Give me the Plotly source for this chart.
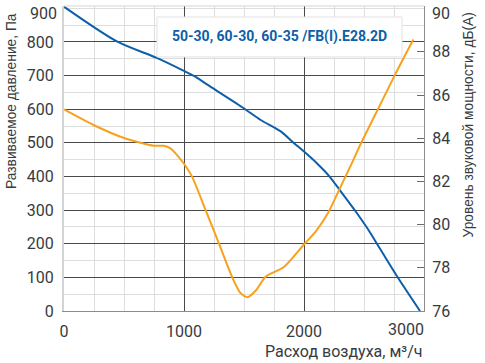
import plotly.graph_objects as go

# Data
airflow_pressure = [0, 445, 778, 1000, 1083, 1195, 1486, 1639, 1806, 1917, 2000,
                    2111, 2208, 2306, 2431, 2528, 2639, 2778, 2967]
pressure_pa = [905, 801, 752, 714, 699, 673, 606, 568, 534, 499, 474,
               438, 402, 356, 296, 246, 182, 102, 0]

airflow_sound = [0, 250, 500, 748, 831, 887, 942, 997, 1067, 1180, 1290, 1405, 1472, 1530,
                 1600, 1680, 1833, 2000, 2100, 2200, 2300, 2400, 2472, 2640, 2764, 2911]
sound_dba = [85.33, 84.60, 84.01, 83.65, 83.65, 83.53, 83.22, 82.84, 82.22, 80.67, 79.14,
             77.52, 76.82, 76.64, 76.96, 77.59, 78.04, 79.08, 79.70, 80.54, 81.69, 82.86,
             83.73, 85.61, 87.00, 88.57]

x_ticks = [0, 1000, 2000]
y_ticks = [0, 100, 200, 300, 400, 500, 600, 700, 800]
y2_ticks = [76, 78, 80, 82, 84, 86, 88]

title_text = "50-30, 60-30, 60-35 /FB(I).E28.2D"
x_title = "Расход воздуха, м³/ч"
y_title = "Развиваемое давление, Па"
y2_title = "Уровень звуковой мощности, дБ(А)"

BLUE = "#0d5fa9"
ORANGE = "#f8a11c"
TXT = "#363b40"
NUMFONT = "Roboto"
TITLEFONT = "Liberation Sans"

fig = go.Figure()
fig.add_trace(go.Scatter(x=airflow_pressure, y=pressure_pa, mode="lines",
                         line=dict(color=BLUE, width=2, shape="spline", smoothing=0.8),
                         hoverinfo="skip", showlegend=False))
fig.add_trace(go.Scatter(x=airflow_sound, y=sound_dba, mode="lines", yaxis="y2",
                         line=dict(color=ORANGE, width=2, shape="spline", smoothing=0.7),
                         hoverinfo="skip", showlegend=False))

fig.update_layout(
    template="none",
    width=485, height=363,
    margin=dict(l=64, r=61, t=6, b=52, autoexpand=False),
    paper_bgcolor="white", plot_bgcolor="white",
    font=dict(family=NUMFONT, size=16, color=TXT),
    xaxis=dict(range=[0, 3000], tickvals=x_ticks, automargin=False,
               showgrid=True, gridcolor="#4a4a4a", gridwidth=1,
               minor=dict(dtick=250, tick0=0, showgrid=True, gridcolor="#dedede", gridwidth=1),
               zeroline=False, showline=True, linecolor="#8c8c8c", linewidth=1,
               ticks="", ticklabelstandoff=6, tickfont=dict(family=NUMFONT, size=16, color=TXT)),
    yaxis=dict(range=[0, 907], tickvals=y_ticks, automargin=False,
               showgrid=True, gridcolor="#4a4a4a", gridwidth=1,
               minor=dict(dtick=50, tick0=0, showgrid=True, gridcolor="#dedede", gridwidth=1),
               zeroline=False, showline=True, linecolor="#d4d4d4", linewidth=2,
               ticks="", ticklabelstandoff=5, tickfont=dict(family=NUMFONT, size=16, color=TXT)),
    yaxis2=dict(range=[76, 76 + 14 * 305 / 302.4], overlaying="y", side="right", tickvals=y2_ticks,
                automargin=False,
                showgrid=False, zeroline=False, showline=True, linecolor="#8c8c8c", linewidth=1,
                ticks="inside", ticklen=7, tickcolor="#6a6a6a", tickwidth=1,
                ticklabelstandoff=4, tickfont=dict(family=NUMFONT, size=16, color=TXT)),
)

# top border
fig.add_shape(type="line", xref="paper", yref="paper", x0=0, x1=1, y0=1, y1=1,
              line=dict(color="#d4d4d4", width=1))
# title box
fig.add_shape(type="rect", xref="paper", yref="paper", x0=0.2583, x1=0.9389, y0=0.833, y1=0.964,
              fillcolor="white", line=dict(color="#e2e2e2", width=1), layer="above")

annotations = [
    dict(text=title_text, xref="paper", yref="paper", x=(0.2583 + 0.9389) / 2, y=(0.833 + 0.964) / 2,
         xanchor="center", yanchor="middle", showarrow=False,
         font=dict(family=NUMFONT, size=14, color=BLUE, weight="bold")),
    dict(text="900", xref="paper", yref="y", x=0, y=900, xanchor="right", yanchor="middle",
         xshift=-5, yshift=-5, showarrow=False, font=dict(family=NUMFONT, size=16, color=TXT)),
    dict(text="90", xref="paper", yref="y2", x=1, y=90, xanchor="left", yanchor="middle",
         xshift=6, yshift=-5, showarrow=False, font=dict(family=NUMFONT, size=16, color=TXT)),
    dict(text="3000", xref="x", yref="paper", x=3000, y=0, xanchor="right", yanchor="top",
         xshift=2, yshift=-7, showarrow=False, font=dict(family=NUMFONT, size=16, color=TXT)),
    dict(text=x_title, xref="paper", yref="paper", x=1, y=0, xanchor="right", yanchor="middle",
         yshift=-40, showarrow=False, font=dict(family=NUMFONT, size=16, color=TXT)),
    dict(text=y_title, xref="paper", yref="paper", x=0, y=1, xanchor="center", yanchor="top",
         xshift=-53, yshift=-5, textangle=-90, showarrow=False,
         font=dict(family=TITLEFONT, size=13.8, color=TXT)),
    dict(text=y2_title, xref="paper", yref="paper", x=1, y=1, xanchor="center", yanchor="top",
         xshift=44, yshift=-5, textangle=-90, showarrow=False,
         font=dict(family=TITLEFONT, size=13.8, color=TXT)),
]
fig.update_layout(annotations=annotations)

fig.write_html("out.html", config={"displayModeBar": False},
               post_script="document.body.style.margin='0px';")
